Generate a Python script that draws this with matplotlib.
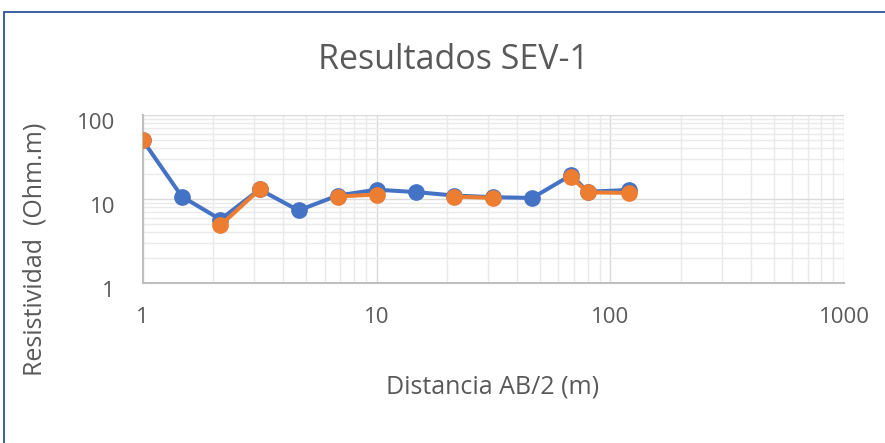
import matplotlib
matplotlib.use("Agg")
import matplotlib.pyplot as plt
import matplotlib.transforms as mtransforms
from matplotlib.patches import Rectangle
from matplotlib.ticker import LogLocator, NullFormatter, FixedLocator, FixedFormatter
import numpy as np

# distancias AB/2 (m) y resistividad aparente (Ohm.m)
ab2 = [1, 1.47, 2.15, 3.16, 4.64, 6.81, 10, 14.7, 21.5, 31.6, 46.4, 68.1, 80, 120]
rho_campo = [50, 10.7, 5.7, 13, 7.3, 11, 12.9, 12.1, 11, 10.5, 10.3, 19.3, 12.2, 12.8]
rho_modelo = [50, np.nan, 4.85, 13, np.nan, 10.7, 11.3, np.nan, 10.7, 10.3, np.nan, 18.1, 12.0, 11.8]

x_ticks = [1, 10, 100, 1000]
y_ticks = [1, 10, 100]

gris = "#595959"
plt.rcParams["font.family"] = ["Open Sans", "DejaVu Sans"]

fig = plt.figure(figsize=(8.85, 4.43), dpi=100)
ax = fig.add_axes([0.1613, 0.3612, 0.7924, 0.3792])

# marco del grafico
fig.patches.append(Rectangle((4 / 885, -0.1), 1.2, 1.1 - 12 / 443,
                             transform=fig.transFigure, fill=False,
                             edgecolor="#2F5496", lw=1.3, zorder=0))

ax.plot(ab2, rho_campo, color="#4472C4", lw=2.9, marker="o", ms=11, zorder=3)
ax.plot(ab2, rho_modelo, color="#ED7D31", lw=2.9, marker="o", ms=11, zorder=4)

ax.set_xscale("log")
ax.set_yscale("log")
ax.set_xlim(1, 1000)
ax.set_ylim(1, 100)

ax.xaxis.set_major_locator(FixedLocator(x_ticks))
ax.xaxis.set_major_formatter(FixedFormatter([str(v) for v in x_ticks]))
ax.yaxis.set_major_locator(FixedLocator(y_ticks))
ax.yaxis.set_major_formatter(FixedFormatter([str(v) for v in y_ticks]))
for axis in (ax.xaxis, ax.yaxis):
    axis.set_minor_locator(LogLocator(base=10, subs=np.arange(2, 10)))
    axis.set_minor_formatter(NullFormatter())

ax.grid(True, which="major", color="#D9D9D9", lw=1.0)
ax.grid(True, which="minor", color="#EAEAEA", lw=1.0)
ax.set_axisbelow(True)

for s in ("top", "right"):
    ax.spines[s].set_visible(False)
for s in ("bottom", "left"):
    ax.spines[s].set_color("#BFBFBF")
    ax.spines[s].set_linewidth(1.5)

ax.tick_params(which="both", length=0)
ax.tick_params(axis="x", labelsize=16, labelcolor=gris, pad=17)
ax.tick_params(axis="y", labelsize=16, labelcolor=gris, pad=20)

# etiquetas del eje y algo desplazadas hacia abajo
desplaza = mtransforms.ScaledTranslation(0, -6 / 100, fig.dpi_scale_trans)
for lab in ax.get_yticklabels():
    lab.set_transform(lab.get_transform() + desplaza)

fig.text(0.512, 0.8646, "Resultados SEV-1", ha="center", va="center",
         fontsize=24.5, color=gris)
fig.text(0.557, 0.127, "Distancia AB/2 (m)", ha="center", va="center",
         fontsize=18, color=gris)
fig.text(0.040, 0.438, "Resistividad  (Ohm.m)", ha="center", va="center",
         rotation=90, fontsize=18, color=gris)

fig.savefig("out.png", dpi=100)
